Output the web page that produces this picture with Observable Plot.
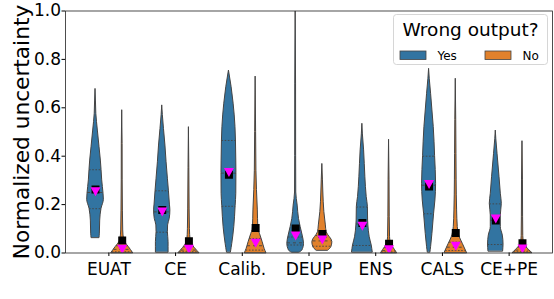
<!DOCTYPE html>
<html><head><meta charset="utf-8">
<script src="https://cdn.jsdelivr.net/npm/d3@7"></script>
<script src="https://cdn.jsdelivr.net/npm/@observablehq/plot@0.6"></script>
<style>
body{margin:0;background:#fff;}
#wrap{position:relative;width:554px;height:299px;}
#legend{position:absolute;left:0;top:0;pointer-events:none;}
</style></head><body><div id="wrap"></div>
<script>
const methods = ["EUAT", "CE", "Calib.", "DEUP", "ENS", "CALS", "CE+PE"];
const hues = ["Yes", "No"];
const hueColors = ["#3274a1", "#e1812c"];
const yTicks = [0, 0.2, 0.4, 0.6, 0.8, 1.0];

// violin density profiles: [value, half-width of density]
const yesProfiles = [
  [[0.063,0.06],[0.08,0.065],[0.134,0.07],[0.183,0.09],[0.22,0.125],[0.245,0.12],[0.3,0.1],[0.344,0.09],[0.382,0.08],[0.437,0.06],[0.506,0.035],[0.575,0.012],[0.63,0.006],[0.678,0]],
  [[0.003,0.095],[0.045,0.095],[0.086,0.085],[0.114,0.088],[0.141,0.112],[0.176,0.122],[0.2,0.115],[0.257,0.1],[0.307,0.085],[0.375,0.065],[0.444,0.048],[0.513,0.026],[0.57,0.009],[0.61,0]],
  [[0.003,0.03],[0.038,0.05],[0.107,0.08],[0.193,0.1],[0.245,0.11],[0.33,0.112],[0.382,0.11],[0.465,0.105],[0.52,0.098],[0.617,0.07],[0.685,0.04],[0.754,0]],
  [[0.002,0.06],[0.01,0.1],[0.038,0.125],[0.072,0.105],[0.107,0.075],[0.141,0.05],[0.196,0.03],[0.25,0.009],[0.4,0.007],[0.7,0.006],[0.998,0]],
  [[0.003,0.155],[0.031,0.14],[0.065,0.11],[0.114,0.09],[0.134,0.086],[0.19,0.083],[0.231,0.065],[0.313,0.045],[0.424,0.026],[0.49,0.008],[0.534,0]],
  [[0.003,0.02],[0.024,0.03],[0.079,0.05],[0.162,0.075],[0.217,0.095],[0.286,0.105],[0.4,0.09],[0.52,0.07],[0.589,0.05],[0.658,0.03],[0.72,0.01],[0.761,0]],
  [[0.007,0.11],[0.035,0.116],[0.072,0.105],[0.107,0.075],[0.155,0.075],[0.203,0.09],[0.245,0.075],[0.313,0.056],[0.41,0.026],[0.47,0.008],[0.506,0]]
];
const noProfiles = [
  [[0,0.162],[0.024,0.1],[0.039,0.057],[0.052,0.03],[0.093,0.015],[0.175,0.0105],[0.3,0.007],[0.45,0.006],[0.59,0]],
  [[0,0.155],[0.02,0.09],[0.035,0.05],[0.05,0.025],[0.1,0.015],[0.18,0.0105],[0.35,0.006],[0.52,0]],
  [[0,0.16],[0.017,0.135],[0.045,0.105],[0.079,0.065],[0.095,0.045],[0.107,0.04],[0.176,0.033],[0.26,0.02],[0.34,0.012],[0.5,0.007],[0.729,0]],
  [[0.01,0.09],[0.024,0.135],[0.045,0.15],[0.086,0.065],[0.114,0.0525],[0.169,0.03],[0.25,0.015],[0.3,0.009],[0.368,0]],
  [[0,0.118],[0.012,0.09],[0.024,0.06],[0.045,0.025],[0.065,0.015],[0.15,0.01],[0.3,0.007],[0.468,0]],
  [[0,0.168],[0.038,0.105],[0.065,0.06],[0.107,0.03],[0.176,0.02],[0.3,0.013],[0.41,0.0105],[0.55,0.007],[0.72,0]],
  [[0,0.146],[0.012,0.1],[0.024,0.06],[0.04,0.025],[0.07,0.012],[0.15,0.009],[0.3,0.007],[0.462,0]]
];
const yesQuartiles = [[0.183,0.25,0.344],[0.086,0.17,0.257],[0.193,0.33,0.465],[0.033,0.042,0.066],[0.031,0.12,0.19],[0.162,0.28,0.4],[0.035,0.135,0.203]];
const noQuartiles = [[0.005,0.015,0.03],[0.005,0.012,0.025],[0.012,0.03,0.06],[0.028,0.05,0.072],[0.004,0.01,0.022],[0.01,0.024,0.045],[0.005,0.012,0.025]];
const yesMeans = [0.262, 0.178, 0.323, 0.101, 0.124, 0.275, 0.134];
const noMeans = [0.052, 0.049, 0.103, 0.079, 0.038, 0.083, 0.04];
const yesMedians = [0.253, 0.169, 0.333, 0.07, 0.111, 0.283, 0.141];
const noMedians = [0.015, 0.015, 0.04, 0.054, 0.013, 0.028, 0.017];

const dodge = {Yes: -0.2, No: 0.2};
const edge = "#444444";

const violins = [];
methods.forEach((m, i) => {
  violins.push({method: m, hue: "Yes", c: i + dodge.Yes, profile: yesProfiles[i], quart: yesQuartiles[i], mean: yesMeans[i], med: yesMedians[i]});
  violins.push({method: m, hue: "No", c: i + dodge.No, profile: noProfiles[i], quart: noQuartiles[i], mean: noMeans[i], med: noMedians[i]});
});

function widthAt(profile, q) {
  for (let k = 0; k < profile.length - 1; k++) {
    const [y0, w0] = profile[k], [y1, w1] = profile[k + 1];
    if (q >= y0 && q <= y1) return w0 + (w1 - w0) * (q - y0) / (y1 - y0);
  }
  return profile[0][1];
}

const triDown = {
  draw(ctx, size) {
    const r = Math.sqrt(size / Math.PI);
    ctx.moveTo(-r, -r * 0.9);
    ctx.lineTo(r, -r * 0.9);
    ctx.lineTo(0, r * 0.9);
    ctx.closePath();
  }
};

const marks = [];
for (const v of violins) {
  const pts = v.profile.map(([y, w]) => ({y, w, c: v.c}));
  marks.push(Plot.areaX(pts, {
    y: "y", x1: d => d.c - d.w, x2: d => d.c + d.w,
    fill: hueColors[hues.indexOf(v.hue)], stroke: edge, strokeWidth: 1, curve: "monotone-y"
  }));
  const ql = v.quart.map((q, k) => ({y: q, k, w: widthAt(v.profile, q), c: v.c}));
  marks.push(Plot.ruleY(ql.filter(d => d.k !== 1), {
    y: "y", x1: d => d.c - d.w, x2: d => d.c + d.w, stroke: edge, strokeWidth: 0.9, strokeDasharray: "1.6,1.6"
  }));
  marks.push(Plot.ruleY(ql.filter(d => d.k === 1), {
    y: "y", x1: d => d.c - d.w, x2: d => d.c + d.w, stroke: edge, strokeWidth: 0.9, strokeDasharray: "3,3"
  }));
}
marks.push(Plot.dot(violins, {x: "c", y: "mean", symbol: "square", r: 4.5, fill: "black", clip: true}));
marks.push(Plot.dot(violins, {x: "c", y: "med", symbol: triDown, r: 5, fill: "#ff00ff", clip: true}));

marks.push(Plot.frame({stroke: "#222", strokeWidth: 0.8}));
marks.push(Plot.axisX({ticks: d3.range(methods.length), tickFormat: i => methods[i], tickSize: 3.5, tickPadding: 6, fontSize: 17, label: null}));
marks.push(Plot.axisY({ticks: yTicks, tickFormat: d3.format(".1f"), tickSize: 3.5, tickPadding: 1, fontSize: 17, label: null}));
marks.push(Plot.text(["Normalized uncertainty"], {text: d => d, frameAnchor: "left", dx: -37, rotate: -90, fontSize: 21.7, lineAnchor: "bottom", textAnchor: "middle"}));

const chart = Plot.plot({
  width: 554, height: 299,
  marginLeft: 65, marginRight: 2, marginTop: 10.5, marginBottom: 46.5,
  x: {type: "linear", domain: [-0.65, methods.length - 1 + 0.65]},
  y: {domain: [0, 1]},
  style: {fontFamily: "DejaVu Sans", color: "black", background: "white"},
  marks
});
document.getElementById("wrap").appendChild(chart);

// legend overlay
const leg = d3.select("#wrap").append("svg").attr("id", "legend").attr("width", 554).attr("height", 299)
  .style("font-family", "DejaVu Sans");
leg.append("rect").attr("x", 393.5).attr("y", 14.5).attr("width", 154).attr("height", 50).attr("rx", 3)
  .attr("fill", "white").attr("fill-opacity", 0.8).attr("stroke", "#cccccc").attr("stroke-width", 0.8);
leg.append("text").attr("x", 470.5).attr("y", 36).attr("text-anchor", "middle").attr("font-size", 18.5).text("Wrong output?");
const entryX = [400, 485];
hues.forEach((h, k) => {
  leg.append("rect").attr("x", entryX[k]).attr("y", 51).attr("width", 26).attr("height", 8.5)
    .attr("fill", hueColors[k]).attr("stroke", edge).attr("stroke-width", 0.8);
  leg.append("text").attr("x", entryX[k] + 37.5).attr("y", 59.5).attr("font-size", 12).text(h);
});
</script></body></html>
